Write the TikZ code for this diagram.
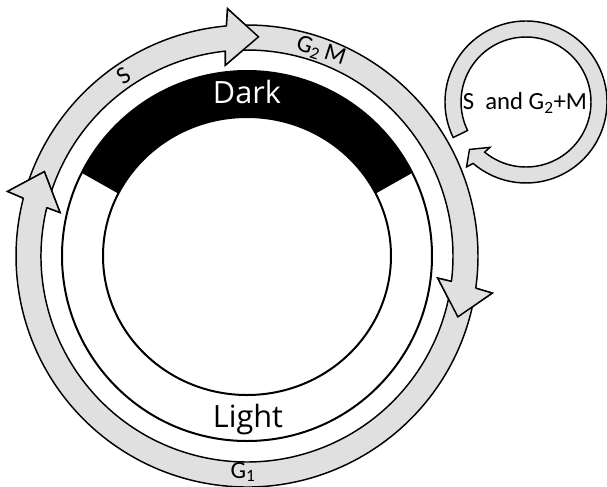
\documentclass[tikz,border=0pt]{standalone}
\usepackage{fontspec}
\setmainfont{Carlito}
\newfontfamily\periodfont{Open Sans}
\usepackage{tikz}
\definecolor{bandgray}{RGB}{224,224,224}
\tikzset{
  band/.style={draw=black, fill=bandgray, line width=1.1pt},
  headline/.style={draw=black, line width=1.1pt},
  ring/.style={draw=black, line width=1.5pt},
  phase/.style={inner sep=0.75pt, font=\fontsize{18.5}{20}\selectfont},
  period/.style={inner sep=0.75pt, font=\periodfont\fontsize{23}{26}\selectfont}
}

\begin{document}
\begin{tikzpicture}[x=0.75pt,y=0.75pt,yscale=-1,xscale=1]
\useasboundingbox (0,0) rectangle (607,486);

% big cycle, centre (247,256), angles counted upwards
\begin{scope}[shift={(247,256)},yscale=-1]
%Shape: Circle [light ring]
\draw [ring] (0,0) circle (185);
%Shape: Ellipse [inner]
\draw [ring] (0,0) ellipse (144 and 139);
%Shape: Arc [dark part]
\fill [black] (26.7:185) arc (26.7:153.3:185) -- ({144*cos(153.3)},{139*sin(153.3)}) arc [start angle=153.3, end angle=26.7, x radius=144, y radius=139] -- cycle;

%Shape: Band S
\draw [band] (162.9:231) arc (162.9:95.1:231) -- (94.5:248) -- (87:219.5) -- (96.5:192) -- (96:206) arc (96:162.9:206) -- cycle;
%Shape: Band G2 M
\draw [band] (92.5:231) arc (92.5:-8:231) -- (-8.6:248) -- (-16.1:219.5) -- (-6.6:192) -- (-7.1:206) arc (-7.1:92.5:206) -- cycle;
%Shape: Band G1
\draw [band] (-10.6:231) arc (-10.6:-194.5:231) -- (-195.1:248) -- (-202.6:219.5) -- (-193.1:192) -- (-193.6:206) arc (-193.6:-10.6:206) -- cycle;

% heads again on top of the next band
\foreach \b/\t in {96.5/87, -6.6/-16.1, 166.9/157.4} {
  \fill [bandgray] (\b:192) -- ({\b-2}:248) -- (\t:219.5) -- cycle;
  \draw [headline] ({\b-1.4}:231) -- ({\b-2}:248) -- (\t:219.5) -- (\b:192) -- ({\b-0.5}:206);
}
\end{scope}

% small loop, centre (526,102)
\begin{scope}[shift={(526,102)},yscale=-1]
%Shape: Band loop
\draw [band] (206:81) arc (206:-130.7:81) -- (-132.5:88) -- (-140:73.8) -- (-128.5:58) -- (-129.5:65) arc (-129.5:206:65) -- cycle;
\end{scope}

% Text Node
\node [period, text=white] (dark) at (247,92) {Dark};
% Text Node
\node [period] (light) at (248,420) {Light};
% Text Node
\node [phase, rotate=34] (s) at (124,76) {S};
% Text Node
\node [phase, rotate=-18] (gtwom) at (321,51) {G\textsubscript{2}\,M};
% Text Node
\node [phase] (gone) at (243,472) {G\textsubscript{1}};
% Text Node
\node [phase] (loop) at (525,103) {S\ \ and G\textsubscript{2}+M};

\end{tikzpicture}
\end{document}
